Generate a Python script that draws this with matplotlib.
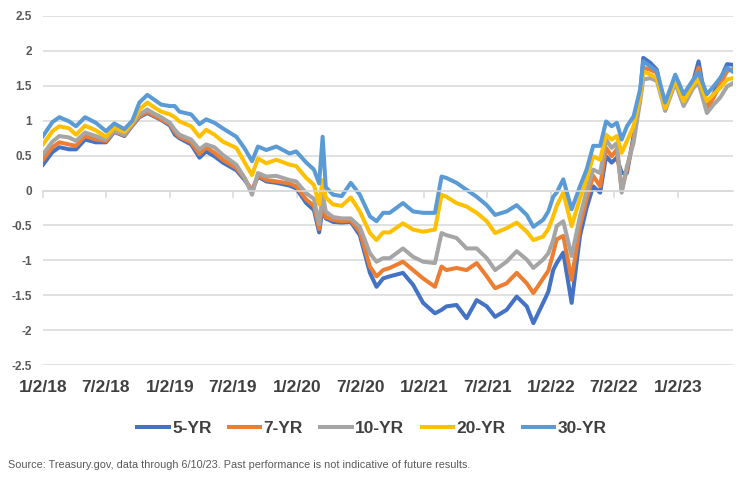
import numpy as np
import pandas as pd
import matplotlib
matplotlib.use("Agg")
import matplotlib.pyplot as plt

dates = [
    "2018-01-02", "2018-01-29", "2018-02-18", "2018-03-18", "2018-04-07", "2018-05-03",
    "2018-06-03", "2018-07-02", "2018-07-26", "2018-08-24", "2018-09-16", "2018-10-06",
    "2018-10-29", "2018-11-18", "2018-12-08", "2019-01-02", "2019-01-16", "2019-01-29",
    "2019-03-04", "2019-03-28", "2019-04-16", "2019-05-10", "2019-06-03", "2019-07-12",
    "2019-08-05", "2019-08-26", "2019-09-12", "2019-10-06", "2019-11-04", "2019-12-12",
    "2019-12-31", "2020-01-29", "2020-02-20", "2020-03-06", "2020-03-16", "2020-03-25",
    "2020-04-15", "2020-05-10", "2020-06-05", "2020-07-01", "2020-07-30", "2020-08-18",
    "2020-09-06", "2020-09-25", "2020-11-02", "2020-12-01", "2020-12-30", "2021-02-02",
    "2021-02-21", "2021-03-07", "2021-04-05", "2021-05-04", "2021-06-02", "2021-07-01",
    "2021-07-25", "2021-08-27", "2021-09-25", "2021-10-24", "2021-11-12", "2021-12-10",
    "2021-12-25", "2022-01-08", "2022-01-18", "2022-02-06", "2022-03-02", "2022-03-26",
    "2022-04-14", "2022-05-03", "2022-05-23", "2022-06-09", "2022-06-25", "2022-07-10",
    "2022-07-24", "2022-08-08", "2022-08-27", "2022-09-15", "2022-09-24", "2022-10-14",
    "2022-11-02", "2022-11-26", "2022-12-25", "2023-01-18", "2023-02-15", "2023-03-02",
    "2023-03-26", "2023-04-14", "2023-05-03", "2023-05-23", "2023-06-09",
]

yr5 = [
    0.37, 0.55, 0.62, 0.59, 0.59, 0.73, 0.69, 0.69, 0.84, 0.78, 0.93, 1.05,
    1.11, 1.06, 1.01, 0.93, 0.80, 0.75, 0.66, 0.47, 0.56, 0.49, 0.40, 0.29,
    0.15, 0.00, 0.20, 0.13, 0.11, 0.07, 0.03, -0.18, -0.28, -0.60, -0.25, -0.40,
    -0.45, -0.46, -0.45, -0.64, -1.18, -1.38, -1.26, -1.23, -1.18, -1.35, -1.61, -1.76,
    -1.71, -1.66, -1.64, -1.83, -1.57, -1.66, -1.81, -1.71, -1.52, -1.66, -1.90, -1.61,
    -1.45, -1.14, -1.04, -0.89, -1.61, -0.65, -0.25, 0.06, -0.03, 0.49, 0.40, 0.47,
    0.25, 0.25, 0.78, 1.38, 1.90, 1.83, 1.73, 1.16, 1.64, 1.35, 1.57, 1.85,
    1.16, 1.38, 1.59, 1.81, 1.80,
]

yr7 = [
    0.44, 0.62, 0.69, 0.66, 0.64, 0.78, 0.73, 0.71, 0.85, 0.79, 0.94, 1.06,
    1.13, 1.07, 1.02, 0.95, 0.84, 0.77, 0.69, 0.52, 0.62, 0.54, 0.44, 0.32,
    0.17, -0.01, 0.22, 0.15, 0.13, 0.10, 0.06, -0.13, -0.22, -0.55, -0.15, -0.38,
    -0.42, -0.44, -0.43, -0.59, -1.09, -1.23, -1.14, -1.11, -1.02, -1.14, -1.26, -1.38,
    -1.09, -1.14, -1.11, -1.14, -1.04, -1.23, -1.40, -1.33, -1.18, -1.33, -1.47, -1.26,
    -1.15, -0.90, -0.70, -0.65, -1.28, -0.51, -0.13, 0.21, 0.06, 0.61, 0.49, 0.59,
    0.00, 0.30, 0.73, 1.33, 1.76, 1.73, 1.69, 1.16, 1.59, 1.30, 1.54, 1.76,
    1.16, 1.33, 1.52, 1.71, 1.74,
]

yr10 = [
    0.52, 0.70, 0.78, 0.76, 0.71, 0.83, 0.78, 0.73, 0.86, 0.80, 0.95, 1.09,
    1.16, 1.10, 1.05, 0.97, 0.87, 0.80, 0.73, 0.59, 0.66, 0.62, 0.51, 0.37,
    0.18, -0.06, 0.25, 0.20, 0.21, 0.15, 0.13, -0.04, -0.12, -0.48, -0.05, -0.30,
    -0.38, -0.40, -0.40, -0.52, -0.90, -1.02, -0.97, -0.97, -0.83, -0.95, -1.02, -1.04,
    -0.61, -0.64, -0.68, -0.83, -0.83, -0.97, -1.14, -1.02, -0.87, -0.99, -1.11, -0.99,
    -0.90, -0.71, -0.51, -0.44, -0.94, -0.37, -0.01, 0.30, 0.25, 0.73, 0.61, 0.68,
    -0.03, 0.35, 0.68, 1.28, 1.59, 1.61, 1.57, 1.14, 1.54, 1.21, 1.47, 1.54,
    1.11, 1.23, 1.33, 1.49, 1.54,
]

yr20 = [
    0.66, 0.85, 0.92, 0.89, 0.80, 0.93, 0.86, 0.77, 0.90, 0.84, 0.97, 1.16,
    1.26, 1.19, 1.13, 1.09, 1.05, 0.99, 0.92, 0.77, 0.87, 0.80, 0.70, 0.61,
    0.40, 0.22, 0.46, 0.39, 0.44, 0.37, 0.35, 0.18, 0.08, -0.20, 0.15, -0.10,
    -0.20, -0.22, -0.10, -0.30, -0.61, -0.71, -0.60, -0.60, -0.47, -0.56, -0.59, -0.56,
    -0.06, -0.09, -0.18, -0.23, -0.32, -0.44, -0.61, -0.54, -0.46, -0.59, -0.71, -0.66,
    -0.55, -0.37, -0.22, -0.03, -0.51, -0.11, 0.16, 0.49, 0.44, 0.80, 0.73, 0.78,
    0.54, 0.71, 0.92, 1.35, 1.71, 1.66, 1.61, 1.18, 1.59, 1.28, 1.52, 1.59,
    1.28, 1.38, 1.47, 1.59, 1.61,
]

yr30 = [
    0.78, 0.98, 1.05, 0.99, 0.92, 1.05, 0.97, 0.85, 0.96, 0.88, 1.00, 1.26,
    1.37, 1.30, 1.23, 1.21, 1.21, 1.13, 1.09, 0.95, 1.02, 0.97, 0.89, 0.77,
    0.60, 0.42, 0.63, 0.58, 0.63, 0.53, 0.56, 0.40, 0.30, 0.10, 0.77, 0.05,
    -0.06, -0.08, 0.11, -0.06, -0.37, -0.44, -0.32, -0.32, -0.18, -0.30, -0.32, -0.32,
    0.20, 0.18, 0.11, 0.01, -0.09, -0.21, -0.35, -0.30, -0.21, -0.35, -0.52, -0.42,
    -0.30, -0.09, -0.03, 0.16, -0.27, 0.06, 0.30, 0.64, 0.64, 0.99, 0.92, 0.97,
    0.73, 0.92, 1.06, 1.45, 1.85, 1.78, 1.71, 1.26, 1.66, 1.38, 1.59, 1.69,
    1.38, 1.49, 1.61, 1.76, 1.70,
]

labels = ["5-YR", "7-YR", "10-YR", "20-YR", "30-YR"]
colors = ["#4472C4", "#ED7D31", "#A5A5A5", "#FFC000", "#5B9BD5"]
tick_dates = ["2018-01-02", "2018-07-02", "2019-01-02", "2019-07-02", "2020-01-02",
              "2020-07-02", "2021-01-02", "2021-07-02", "2022-01-02", "2022-07-02",
              "2023-01-02"]
tick_labels = ["1/2/18", "7/2/18", "1/2/19", "7/2/19", "1/2/20", "7/2/20",
               "1/2/21", "7/2/21", "1/2/22", "7/2/22", "1/2/23"]

plt.rcParams['font.family'] = ['Liberation Sans', 'DejaVu Sans']

x = pd.to_datetime(dates)
fig = plt.figure(figsize=(7.39, 4.78), dpi=100)
ax = fig.add_axes([43 / 739, 1 - 365 / 478, 690 / 739, 349 / 478])

for vals, lab, col in zip([yr5, yr7, yr10, yr20, yr30], labels, colors):
    ax.plot(x, vals, color=col, lw=2.9, label=lab, solid_joinstyle='round')

ax.set_xlim(x[0], x[-1])
ax.set_ylim(-2.5, 2.5)
ax.set_yticks(np.arange(-2.5, 2.51, 0.5))
ax.yaxis.set_major_formatter(plt.FuncFormatter(lambda v, p: f"{v:g}"))
ax.grid(axis='y', color='#D9D9D9', lw=1.1)
ax.set_axisbelow(True)
for s in ['top', 'right', 'left']:
    ax.spines[s].set_visible(False)
# horizontal axis crosses at zero, labels sit low
ax.spines['bottom'].set_position(('data', 0))
ax.spines['bottom'].set_color('#D9D9D9')
ax.spines['bottom'].set_linewidth(1.1)

tk = pd.to_datetime(tick_dates)
ax.set_xticks(tk)
ax.tick_params(axis='x', length=5, width=1.1, color='#D9D9D9', labelbottom=False)
ax.tick_params(axis='y', length=0, pad=8, labelsize=8.5, labelcolor='#595959')
for t in ax.get_yticklabels():
    t.set_fontweight('bold')

sec = ax.secondary_xaxis(0.0)
sec.set_xticks(tk)
sec.set_xticklabels(tick_labels)
sec.tick_params(length=0, pad=11, labelsize=12.5, labelcolor='#404040')
sec.spines['bottom'].set_visible(False)
for t in sec.get_xticklabels():
    t.set_fontweight('bold')

leg = fig.legend(loc='center', bbox_to_anchor=(372 / 739, 1 - 428 / 478), ncol=5,
                 frameon=False, handlelength=1.8, handletextpad=0.2, columnspacing=1.0,
                 prop={'weight': 'bold', 'size': 12.5})
for t in leg.get_texts():
    t.set_color('#404040')
for h in leg.legend_handles:
    h.set_linewidth(2.9)

fig.text(8 / 739, 1 - 465 / 478,
         "Source: Treasury.gov, data through 6/10/23. Past performance is not indicative of future results.",
         ha='left', va='center', fontsize=7.8, color='#595959')

fig.savefig("out.png", dpi=100)
